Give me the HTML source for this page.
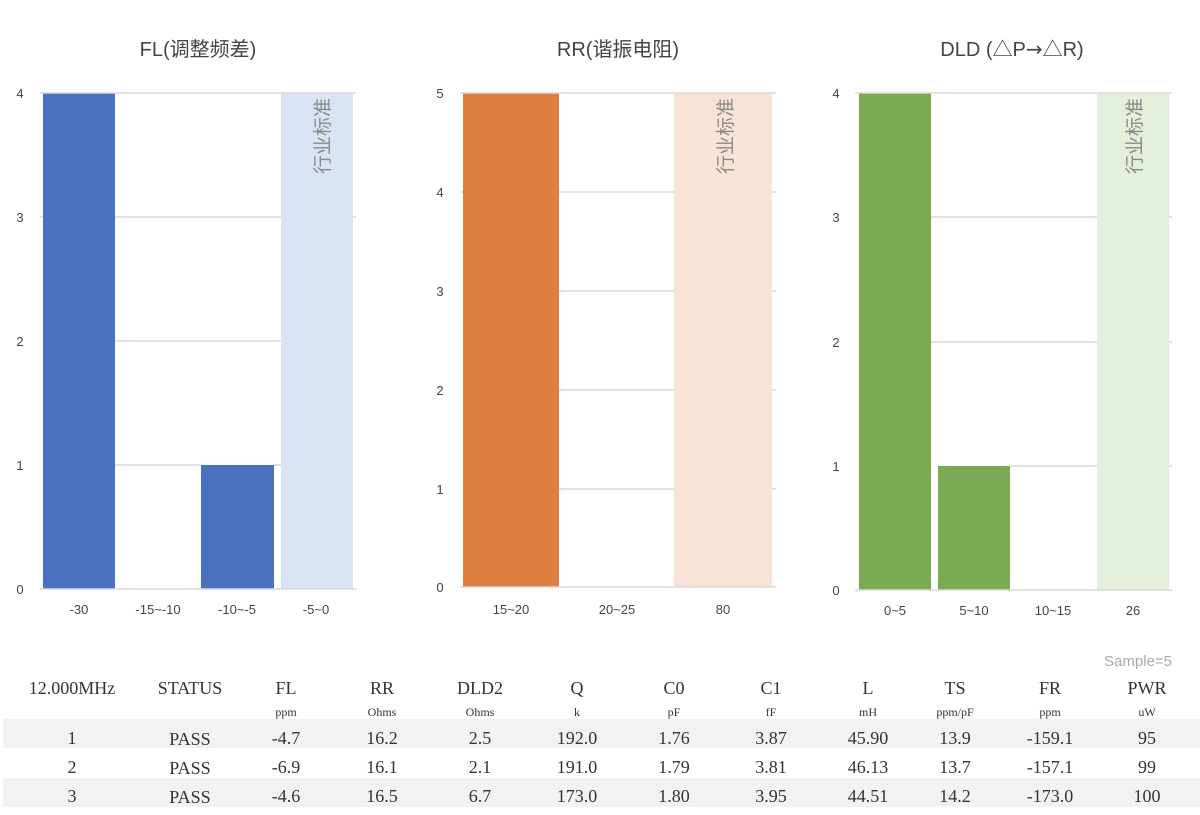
<!DOCTYPE html>
<html><head><meta charset="utf-8"><style>
body{margin:0;background:#fff;}
svg{display:block;}
.t{font-family:"Liberation Sans","Noto Sans CJK SC",sans-serif;}
.s{font-family:"Liberation Serif","Noto Serif CJK SC",serif;fill:#333;}
</style></head><body>
<svg width="1200" height="815" viewBox="0 0 1200 815" xmlns="http://www.w3.org/2000/svg">
<g class="t" font-size="20" fill="#444" text-anchor="middle">
<text x="198" y="56">FL(调整频差)</text>
<text x="618" y="56">RR(谐振电阻)</text>
<text x="1012" y="56">DLD (△P<tspan font-family="DejaVu Sans">→</tspan>△R)</text>
</g>
<!-- Chart 1 -->
<rect x="281" y="93" width="72" height="496" fill="#dae3f3"/>
<rect x="43" y="93" width="72" height="496" fill="#4a72be"/>
<rect x="201" y="465" width="73" height="124" fill="#4a72be"/>
<g stroke="#d9d9d9" stroke-width="1.5">
<line x1="40" y1="93" x2="356" y2="93"/><line x1="40" y1="217" x2="43" y2="217"/><line x1="115" y1="217" x2="281" y2="217"/><line x1="353" y1="217" x2="356" y2="217"/>
<line x1="115" y1="341" x2="281" y2="341"/><line x1="115" y1="465" x2="201" y2="465"/><line x1="274" y1="465" x2="281" y2="465"/>
<line x1="40" y1="589" x2="356" y2="589"/>
</g>
<g class="t" font-size="13" fill="#444" text-anchor="middle">
<text x="20" y="98">4</text><text x="20" y="222">3</text><text x="20" y="346">2</text><text x="20" y="470">1</text><text x="20" y="594">0</text>
<text x="79" y="614">-30</text><text x="158" y="614">-15~-10</text><text x="237" y="614">-10~-5</text><text x="316" y="614">-5~0</text>
</g>
<text class="t" font-size="19" fill="#888" text-anchor="end" transform="translate(329,98) rotate(-90)">行业标准</text>
<!-- Chart 2 -->
<rect x="674" y="93" width="98" height="494" fill="#f8e4d6"/>
<rect x="463" y="93" width="96" height="494" fill="#de7f41"/>
<g stroke="#d9d9d9" stroke-width="1.5">
<line x1="460" y1="93" x2="776" y2="93"/>
<line x1="559" y1="192" x2="674" y2="192"/><line x1="772" y1="192" x2="776" y2="192"/><line x1="460" y1="192" x2="463" y2="192"/>
<line x1="559" y1="291" x2="674" y2="291"/><line x1="772" y1="291" x2="776" y2="291"/>
<line x1="559" y1="390" x2="674" y2="390"/><line x1="772" y1="390" x2="776" y2="390"/>
<line x1="559" y1="489" x2="674" y2="489"/><line x1="772" y1="489" x2="776" y2="489"/>
<line x1="460" y1="587" x2="776" y2="587"/>
</g>
<g class="t" font-size="13" fill="#444" text-anchor="middle">
<text x="440" y="98">5</text><text x="440" y="197">4</text><text x="440" y="296">3</text><text x="440" y="395">2</text><text x="440" y="494">1</text><text x="440" y="592">0</text>
<text x="511" y="614">15~20</text><text x="617" y="614">20~25</text><text x="723" y="614">80</text>
</g>
<text class="t" font-size="19" fill="#888" text-anchor="end" transform="translate(732,98) rotate(-90)">行业标准</text>
<!-- Chart 3 -->
<rect x="1097" y="93" width="72" height="497" fill="#e3eedb"/>
<rect x="859" y="93" width="72" height="497" fill="#7aab52"/>
<rect x="938" y="466" width="72" height="124" fill="#7aab52"/>
<g stroke="#d9d9d9" stroke-width="1.5">
<line x1="855" y1="93" x2="1172" y2="93"/>
<line x1="931" y1="217" x2="1097" y2="217"/><line x1="1169" y1="217" x2="1172" y2="217"/>
<line x1="931" y1="342" x2="1097" y2="342"/><line x1="1169" y1="342" x2="1172" y2="342"/>
<line x1="1010" y1="466" x2="1097" y2="466"/><line x1="1169" y1="466" x2="1172" y2="466"/>
<line x1="855" y1="590" x2="1172" y2="590"/>
</g>
<g class="t" font-size="13" fill="#444" text-anchor="middle">
<text x="836" y="98">4</text><text x="836" y="222">3</text><text x="836" y="347">2</text><text x="836" y="471">1</text><text x="836" y="595">0</text>
<text x="895" y="615">0~5</text><text x="974" y="615">5~10</text><text x="1053" y="615">10~15</text><text x="1133" y="615">26</text>
</g>
<text class="t" font-size="19" fill="#888" text-anchor="end" transform="translate(1141,98) rotate(-90)">行业标准</text>
<!-- Table -->
<text class="t" font-size="15" fill="#aaa" text-anchor="end" x="1172" y="666">Sample=5</text>
<rect x="3" y="719" width="1197" height="29" fill="#f2f2f2"/>
<rect x="3" y="778" width="1197" height="29" fill="#f2f2f2"/>
<g class="s" font-size="18" text-anchor="middle">
<text x="72" y="694">12.000MHz</text><text x="190" y="694">STATUS</text><text x="286" y="694">FL</text><text x="382" y="694">RR</text><text x="480" y="694">DLD2</text><text x="577" y="694">Q</text><text x="674" y="694">C0</text><text x="771" y="694">C1</text><text x="868" y="694">L</text><text x="955" y="694">TS</text><text x="1050" y="694">FR</text><text x="1147" y="694">PWR</text>
</g>
<g class="s" font-size="12" text-anchor="middle">
<text x="286" y="716">ppm</text><text x="382" y="716">Ohms</text><text x="480" y="716">Ohms</text><text x="577" y="716">k</text><text x="674" y="716">pF</text><text x="771" y="716">fF</text><text x="868" y="716">mH</text><text x="955" y="716">ppm/pF</text><text x="1050" y="716">ppm</text><text x="1147" y="716">uW</text>
</g>
<g class="s" font-size="18" text-anchor="middle">
<text x="72" y="744">1</text><text x="190" y="745">PASS</text><text x="286" y="744">-4.7</text><text x="382" y="744">16.2</text><text x="480" y="744">2.5</text><text x="577" y="744">192.0</text><text x="674" y="744">1.76</text><text x="771" y="744">3.87</text><text x="868" y="744">45.90</text><text x="955" y="744">13.9</text><text x="1050" y="744">-159.1</text><text x="1147" y="744">95</text>
<text x="72" y="773">2</text><text x="190" y="774">PASS</text><text x="286" y="773">-6.9</text><text x="382" y="773">16.1</text><text x="480" y="773">2.1</text><text x="577" y="773">191.0</text><text x="674" y="773">1.79</text><text x="771" y="773">3.81</text><text x="868" y="773">46.13</text><text x="955" y="773">13.7</text><text x="1050" y="773">-157.1</text><text x="1147" y="773">99</text>
<text x="72" y="802">3</text><text x="190" y="803">PASS</text><text x="286" y="802">-4.6</text><text x="382" y="802">16.5</text><text x="480" y="802">6.7</text><text x="577" y="802">173.0</text><text x="674" y="802">1.80</text><text x="771" y="802">3.95</text><text x="868" y="802">44.51</text><text x="955" y="802">14.2</text><text x="1050" y="802">-173.0</text><text x="1147" y="802">100</text>
</g>
</svg>
</body></html>
